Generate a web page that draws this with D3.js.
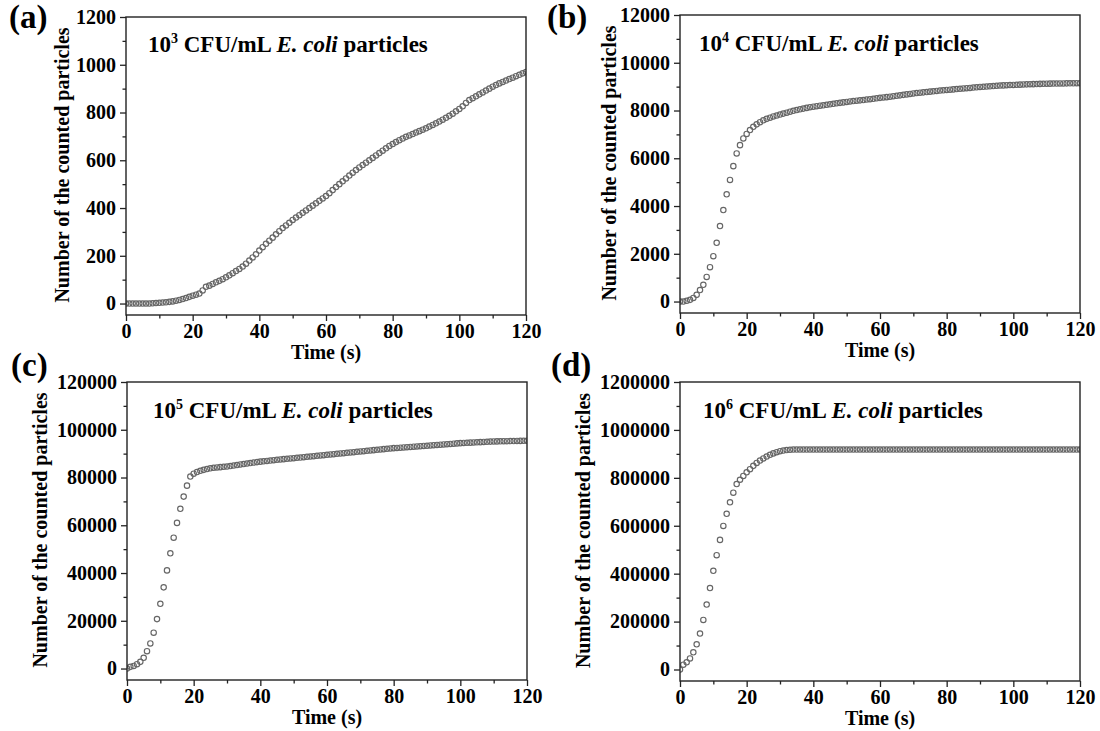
<!DOCTYPE html>
<html>
<head>
<meta charset="utf-8">
<script src="https://cdn.jsdelivr.net/npm/d3@7"></script>
<style>
  html, body { margin: 0; padding: 0; background: #fff; }
  svg { display: block; }
  text { font-family: "Liberation Serif", "Times New Roman", serif; font-weight: bold; fill: #000; }
</style>
</head>
<body>
<svg id="chart" width="1100" height="731"></svg>
<script>
// ---------------- DATA ----------------
const timeSeconds = [
  0,1,2,3,4,5,6,7,8,9,10,11,12,13,14,15,16,17,18,19,20,21,22,23,24,25,26,27,28,29,
  30,31,32,33,34,35,36,37,38,39,40,41,42,43,44,45,46,47,48,49,50,51,52,53,54,55,56,57,58,59,
  60,61,62,63,64,65,66,67,68,69,70,71,72,73,74,75,76,77,78,79,80,81,82,83,84,85,86,87,88,89,
  90,91,92,93,94,95,96,97,98,99,100,101,102,103,104,105,106,107,108,109,110,111,112,113,114,115,116,117,118,119,120
];

const countsA = [
  0,0,0,0,0,0,0,0,1,2,
  3,4,5,7,9,12,15,19,23,28,
  33,37,42,55,70,75,82,89,95,102,
  110,118,127,136,145,155,167,180,193,206,
  222,236,250,263,276,290,303,316,327,338,
  350,360,370,380,390,400,410,420,430,440,
  450,462,475,488,500,512,524,536,548,559,
  570,580,590,600,610,620,630,640,650,660,
  668,676,684,691,698,704,710,716,722,728,
  734,741,748,755,762,770,778,786,795,805,
  815,826,840,852,860,868,876,884,892,900,
  908,915,922,928,934,940,946,952,958,964,
  970
];

const countsB = [
  0,0,30,70,150,280,480,700,1030,1440,
  1900,2460,3160,3830,4490,5090,5670,6200,6550,6830,
  7020,7180,7320,7420,7510,7590,7650,7700,7750,7790,
  7830,7870,7910,7950,7990,8020,8050,8080,8110,8140,
  8160,8180,8200,8220,8240,8260,8280,8300,8320,8340,
  8360,8380,8395,8410,8425,8440,8460,8475,8490,8510,
  8530,8545,8560,8580,8600,8615,8635,8655,8675,8695,
  8715,8730,8745,8760,8775,8790,8805,8820,8835,8848,
  8860,8872,8885,8897,8910,8922,8935,8947,8960,8972,
  8985,8995,9005,9015,9025,9035,9045,9052,9060,9066,
  9072,9078,9084,9090,9095,9100,9105,9110,9115,9118,
  9122,9125,9128,9130,9133,9135,9137,9139,9140,9142,
  9143
];

const countsC = [
  0,700,1100,1800,2800,4500,7270,10500,15000,20700,
  27100,34000,41100,48250,54800,61000,66900,72000,76600,80400,
  81600,82300,82800,83200,83550,83850,84050,84200,84350,84480,
  84600,84820,85030,85240,85450,85650,85850,86050,86250,86450,
  86650,86800,86950,87100,87250,87400,87550,87700,87850,87980,
  88100,88240,88380,88520,88660,88800,88940,89080,89220,89360,
  89500,89640,89780,89920,90060,90200,90340,90480,90620,90760,
  90900,91040,91180,91320,91460,91600,91740,91880,92020,92160,
  92300,92400,92500,92600,92700,92800,92900,93000,93100,93200,
  93300,93410,93520,93630,93740,93850,93960,94070,94180,94290,
  94400,94470,94540,94610,94680,94750,94820,94890,94960,95030,
  95100,95130,95160,95190,95220,95250,95280,95310,95340,95370,
  95400
];

const countsD = [
  0,20000,30000,46000,72000,105000,150000,207000,271000,340000,
  412000,477000,541000,599000,650000,698000,738000,774000,792000,808000,
  823000,836000,850000,862000,872000,881000,889000,896000,902000,907000,
  911000,914000,916000,917000,918000,918000,918000,918000,918000,918000,
  918000,918000,918000,918000,918000,918000,918000,918000,918000,918000,
  918000,918000,918000,918000,918000,918000,918000,918000,918000,918000,
  918000,918000,918000,918000,918000,918000,918000,918000,918000,918000,
  918000,918000,918000,918000,918000,918000,918000,918000,918000,918000,
  918000,918000,918000,918000,918000,918000,918000,918000,918000,918000,
  918000,918000,918000,918000,918000,918000,918000,918000,918000,918000,
  918000,918000,918000,918000,918000,918000,918000,918000,918000,918000,
  918000,918000,918000,918000,918000,918000,918000,918000,918000,918000,
  918000
];

const xTickValues = [0, 20, 40, 60, 80, 100, 120];
const xMinorValues = [10, 30, 50, 70, 90, 110];
const yTicksA = [0, 200, 400, 600, 800, 1000, 1200];
const yTicksB = [0, 2000, 4000, 6000, 8000, 10000, 12000];
const yTicksC = [0, 20000, 40000, 60000, 80000, 100000, 120000];
const yTicksD = [0, 200000, 400000, 600000, 800000, 1000000, 1200000];

const panelLetters = ["(a)", "(b)", "(c)", "(d)"];
const exponents = ["3", "4", "5", "6"];
const xAxisTitle = "Time (s)";
const yAxisTitle = "Number of the counted particles";

// ---------------- LAYOUT ----------------
const panels = [
  { letter: panelLetters[0], exp: exponents[0], values: countsA, ticks: yTicksA,
    L: 126, R: 526, T: 17, B: 315, yMin: -48,
    letterPos: [9, 28], notePos: [148, 52], yTitleX: 69 },
  { letter: panelLetters[1], exp: exponents[1], values: countsB, ticks: yTicksB,
    L: 680, R: 1080, T: 15, B: 313, yMin: -480,
    letterPos: [547, 28], notePos: [699, 51], yTitleX: 616 },
  { letter: panelLetters[2], exp: exponents[2], values: countsC, ticks: yTicksC,
    L: 127, R: 527, T: 382, B: 680, yMin: -4800,
    letterPos: [11, 376], notePos: [153, 418], yTitleX: 47 },
  { letter: panelLetters[3], exp: exponents[3], values: countsD, ticks: yTicksD,
    L: 680, R: 1080, T: 382, B: 681, yMin: -48000,
    letterPos: [551, 376], notePos: [703, 418], yTitleX: 590 }
];

const svg = d3.select("#chart");

panels.forEach((p, i) => {
  const yMax = p.ticks[p.ticks.length - 1];
  const x = d3.scaleLinear().domain([0, 120]).range([p.L, p.R]);
  const y = d3.scaleLinear().domain([p.yMin, yMax]).range([p.B, p.T]);
  const yMinor = p.ticks.slice(0, -1).map((v, k) => (v + p.ticks[k + 1]) / 2);

  const g = svg.append("g");

  const clipId = "clip" + i;
  svg.append("clipPath").attr("id", clipId)
    .append("rect").attr("x", p.L).attr("y", p.T).attr("width", p.R - p.L).attr("height", p.B - p.T);

  g.append("g").attr("clip-path", `url(#${clipId})`)
    .selectAll("circle")
    .data(timeSeconds.map((t, k) => [t, p.values[k]]))
    .join("circle")
    .attr("cx", d => x(d[0]))
    .attr("cy", d => y(d[1]))
    .attr("r", 2.7)
    .attr("fill", "none")
    .attr("stroke", "#666")
    .attr("stroke-width", 1.15);

  const fontSize = 20;
  const xAxis = g.append("g").attr("transform", `translate(0,${p.B})`)
    .call(d3.axisBottom(x).tickValues(xTickValues).tickSize(6).tickPadding(3).tickFormat(d3.format("d")));
  const xAxisMinor = g.append("g").attr("transform", `translate(0,${p.B})`)
    .call(d3.axisBottom(x).tickValues(xMinorValues).tickSize(3.5).tickFormat(""));
  const yAxis = g.append("g").attr("transform", `translate(${p.L},0)`)
    .call(d3.axisLeft(y).tickValues(p.ticks).tickSize(6).tickPadding(4).tickFormat(d3.format("d")));
  const yAxisMinor = g.append("g").attr("transform", `translate(${p.L},0)`)
    .call(d3.axisLeft(y).tickValues(yMinor).tickSize(3.5).tickFormat(""));

  [xAxis, xAxisMinor, yAxis, yAxisMinor].forEach(a => {
    a.select(".domain").remove();
    a.selectAll(".tick line").attr("stroke", "#222").attr("stroke-width", 1.3);
    a.selectAll(".tick text")
      .attr("font-family", '"Liberation Serif", "Times New Roman", serif')
      .attr("font-weight", "bold")
      .attr("font-size", fontSize)
      .attr("fill", "#000");
  });

  g.append("rect")
    .attr("x", p.L).attr("y", p.T)
    .attr("width", p.R - p.L).attr("height", p.B - p.T)
    .attr("fill", "none").attr("stroke", "#222").attr("stroke-width", 1.4);

  g.append("text")
    .attr("x", (p.L + p.R) / 2).attr("y", p.B + 44)
    .attr("text-anchor", "middle").attr("font-size", fontSize)
    .text(xAxisTitle);

  g.append("text")
    .attr("transform", `translate(${p.yTitleX},${(p.T + p.B) / 2 - 1}) rotate(-90)`)
    .attr("text-anchor", "middle").attr("font-size", fontSize)
    .text(yAxisTitle);

  g.append("text")
    .attr("x", p.letterPos[0]).attr("y", p.letterPos[1])
    .attr("font-size", 33)
    .text(p.letter);

  const note = g.append("text")
    .attr("x", p.notePos[0]).attr("y", p.notePos[1])
    .attr("font-size", 23);
  note.append("tspan").text("10");
  note.append("tspan").attr("font-size", 14).attr("dy", -9).text(p.exp);
  note.append("tspan").attr("dy", 9).text(" CFU/mL ");
  note.append("tspan").attr("font-style", "italic").text("E. coli");
  note.append("tspan").text(" particles");
});
</script>
</body>
</html>
